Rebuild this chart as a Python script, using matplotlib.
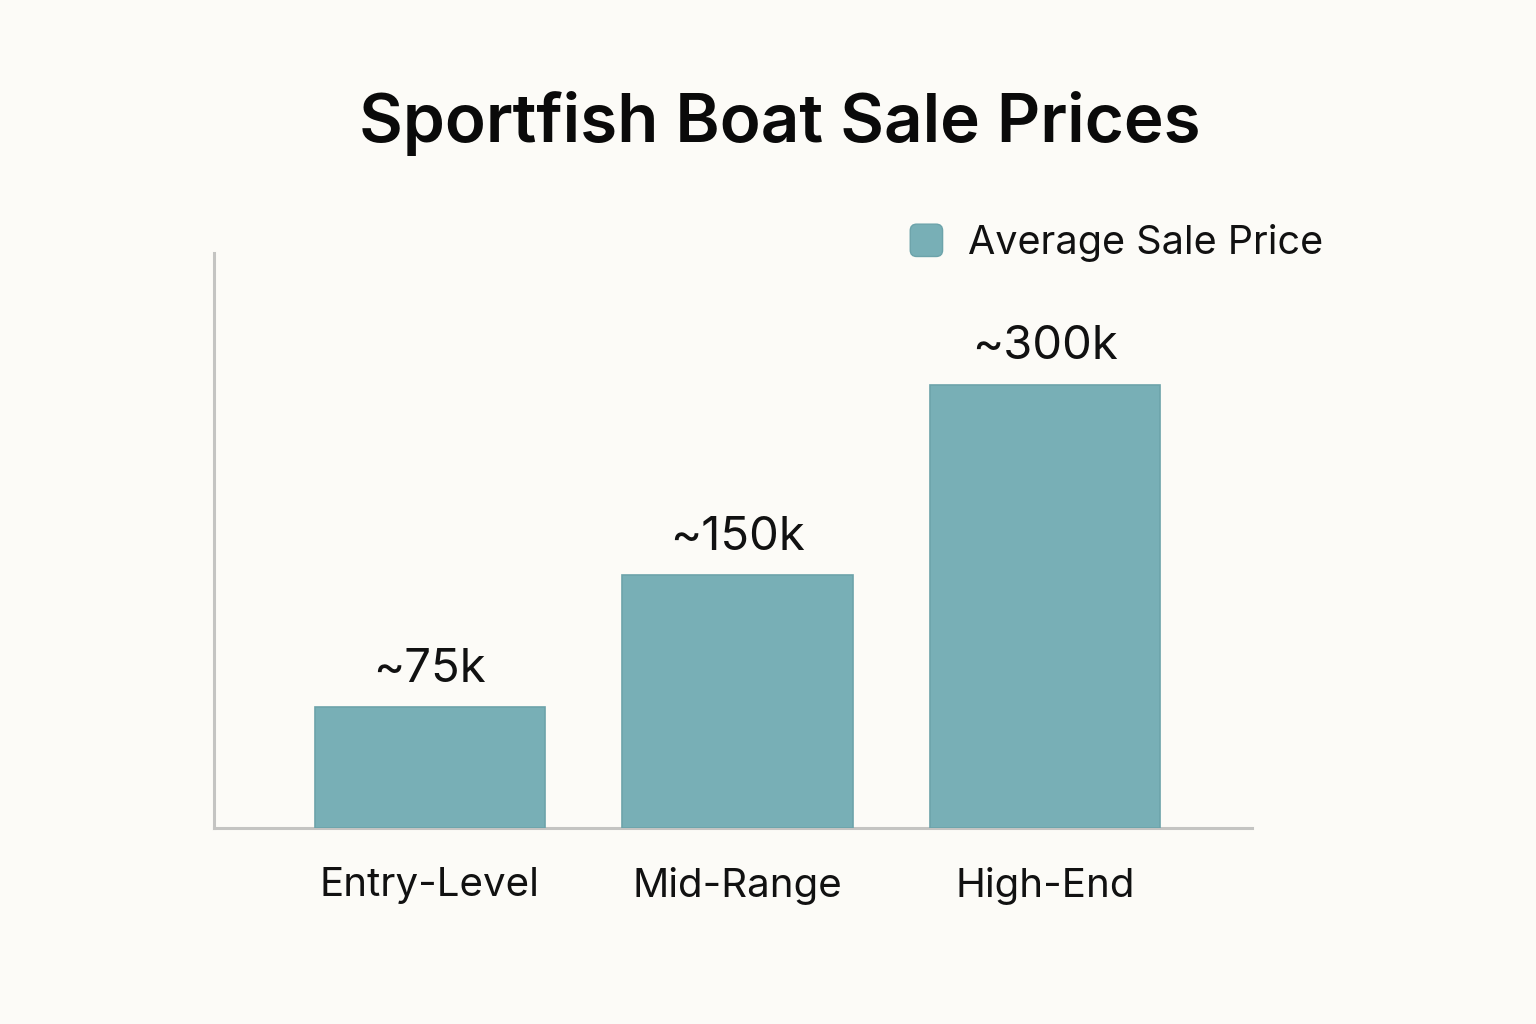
import matplotlib
matplotlib.use("Agg")
import matplotlib.pyplot as plt
from matplotlib.patches import FancyBboxPatch
from matplotlib.legend_handler import HandlerPatch
import matplotlib.patches as mpatches

categories = ["Entry-Level", "Mid-Range", "High-End"]
values = [82, 171, 300]          # bar heights (k$)
value_labels = ["~75k", "~150k", "~300k"]
series_name = "Average Sale Price"
title = "Sportfish Boat Sale Prices"

BAR = "#78AFB6"
EDGE = "#6CA3AA"
BG = "#FCFBF7"
SPINE = "#C4C4C2"

plt.rcParams['font.family'] = ['Inter', 'DejaVu Sans']

fig = plt.figure(figsize=(15.36, 10.24), dpi=100, facecolor=BG)
ax = fig.add_axes([214/1536, 1-828/1024, 1038/1536, 575/1024])
ax.set_facecolor(BG)

x = list(range(len(categories)))
bars = ax.bar(x, values, width=0.75, color=BAR, edgecolor=EDGE, linewidth=1.2,
              label=series_name, zorder=3)

for b, lab in zip(bars, value_labels):
    ax.annotate(lab, (b.get_x() + b.get_width()/2, b.get_height()),
                xytext=(0, 11), textcoords="offset points",
                ha="center", va="bottom", fontsize=34, color="#111111")

ax.set_xlim(-0.702, 2.673)
ax.set_ylim(0, 389)
ax.set_xticks(x)
ax.set_xticklabels(categories, fontsize=29, color="#111111")
ax.tick_params(axis="x", length=0, pad=28)
ax.set_yticks([])
for s in ["top", "right"]:
    ax.spines[s].set_visible(False)
for s in ["left", "bottom"]:
    ax.spines[s].set_color(SPINE)
    ax.spines[s].set_linewidth(2.2)

fig.text(780/1536, 1-124/1024, title, ha="center", va="center", fontsize=48.5,
         fontweight="semibold", color="#0A0A0A")


class RoundHandler(HandlerPatch):
    def create_artists(self, legend, orig_handle, xdescent, ydescent, width,
                       height, fontsize, trans):
        s = min(width, height)
        p = FancyBboxPatch((-xdescent + (width - s)/2, -ydescent + (height - s)/2), s, s,
                           boxstyle="round,pad=0,rounding_size=%f" % (s*0.2),
                           facecolor=BAR, edgecolor=EDGE, linewidth=1, transform=trans)
        return [p]


handle = mpatches.Patch(color=BAR, label=series_name)
leg = fig.legend(handles=[handle], labels=[series_name],
                 loc="center left", bbox_to_anchor=(909/1536, 1-243/1024),
                 frameon=False, fontsize=28.5, handlelength=0.88, handleheight=0.88,
                 handletextpad=0.62, borderpad=0, borderaxespad=0,
                 handler_map={mpatches.Patch: RoundHandler()})
for t in leg.get_texts():
    t.set_color("#111111")

fig.savefig("out.png", dpi=100, facecolor=BG)
